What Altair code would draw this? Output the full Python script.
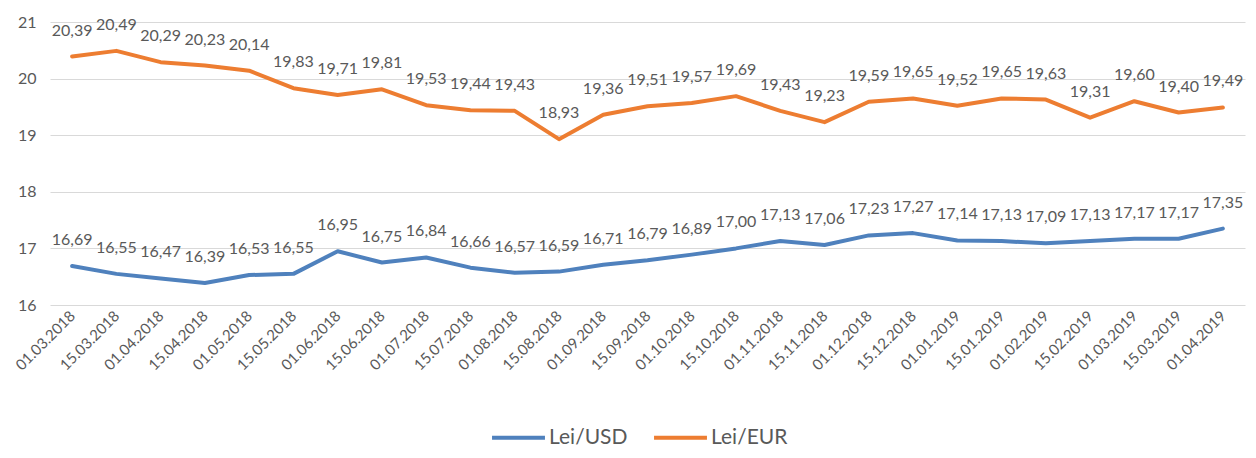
import altair as alt
import pandas as pd

dates = ["01.03.2018", "15.03.2018", "01.04.2018", "15.04.2018", "01.05.2018",
         "15.05.2018", "01.06.2018", "15.06.2018", "01.07.2018", "15.07.2018",
         "01.08.2018", "15.08.2018", "01.09.2018", "15.09.2018", "01.10.2018",
         "15.10.2018", "01.11.2018", "15.11.2018", "01.12.2018", "15.12.2018",
         "01.01.2019", "15.01.2019", "01.02.2019", "15.02.2019", "01.03.2019",
         "15.03.2019", "01.04.2019"]
usd = [16.69, 16.55, 16.47, 16.39, 16.53, 16.55, 16.95, 16.75, 16.84, 16.66,
       16.57, 16.59, 16.71, 16.79, 16.89, 17.00, 17.13, 17.06, 17.23, 17.27,
       17.14, 17.13, 17.09, 17.13, 17.17, 17.17, 17.35]
eur = [20.39, 20.49, 20.29, 20.23, 20.14, 19.83, 19.71, 19.81, 19.53, 19.44,
       19.43, 18.93, 19.36, 19.51, 19.57, 19.69, 19.43, 19.23, 19.59, 19.65,
       19.52, 19.65, 19.63, 19.31, 19.60, 19.40, 19.49]
series_names = ["Lei/USD", "Lei/EUR"]
series_colors = ["#4F81BD", "#ED7D31"]

rows = []
for d, u, e in zip(dates, usd, eur):
    rows.append({"date": d, "series": "Lei/USD", "value": u})
    rows.append({"date": d, "series": "Lei/EUR", "value": e})
df = pd.DataFrame(rows)

FONT = "Lato"
GRAY = "#595959"

x = alt.X("date:N", sort=dates,
          scale=alt.Scale(type="point", padding=0.5),
          axis=alt.Axis(title=None, labelAngle=-45, labelAlign="right",
                        labelBaseline="middle", labelFontSize=15,
                        labelColor=GRAY, labelFont=FONT, labelPadding=8,
                        ticks=False, domain=False, grid=False))
y = alt.Y("value:Q", scale=alt.Scale(domain=[16, 21], nice=False, zero=False),
          axis=alt.Axis(title=None, values=[16, 17, 18, 19, 20, 21],
                        labelFontSize=16, labelColor=GRAY, labelFont=FONT,
                        labelPadding=14, ticks=False, domain=False,
                        grid=True, gridColor="#D9D9D9", gridWidth=1))
color = alt.Color("series:N",
                  scale=alt.Scale(domain=series_names, range=series_colors),
                  legend=alt.Legend(title=None, orient="none", direction="horizontal",
                                    legendX=440, legendY=387,
                                    symbolType="stroke", symbolSize=2800,
                                    symbolStrokeWidth=4, labelFontSize=21,
                                    labelFont=FONT, labelColor=GRAY,
                                    columnPadding=18, labelOffset=2))

base = alt.Chart(df)
lines = base.mark_line(strokeWidth=4, strokeCap="round", strokeJoin="round").encode(
    x=x, y=y, color=color, detail="series:N")
labels = base.transform_calculate(
    label="replace(format(datum.value, '.2f'), '.', ',')"
).mark_text(baseline="bottom", dy=-18, fontSize=16, font=FONT, color=GRAY).encode(
    x=x, y=y, text="label:N")

chart = (lines + labels).properties(
    width=1195, height=283,
    padding={"left": 42, "top": 14, "right": 3, "bottom": 143},
    autosize=alt.AutoSizeParams(type="none"),
).configure_view(stroke=None)

chart.save("out.html", embed_options={"renderer": "svg", "actions": False})
